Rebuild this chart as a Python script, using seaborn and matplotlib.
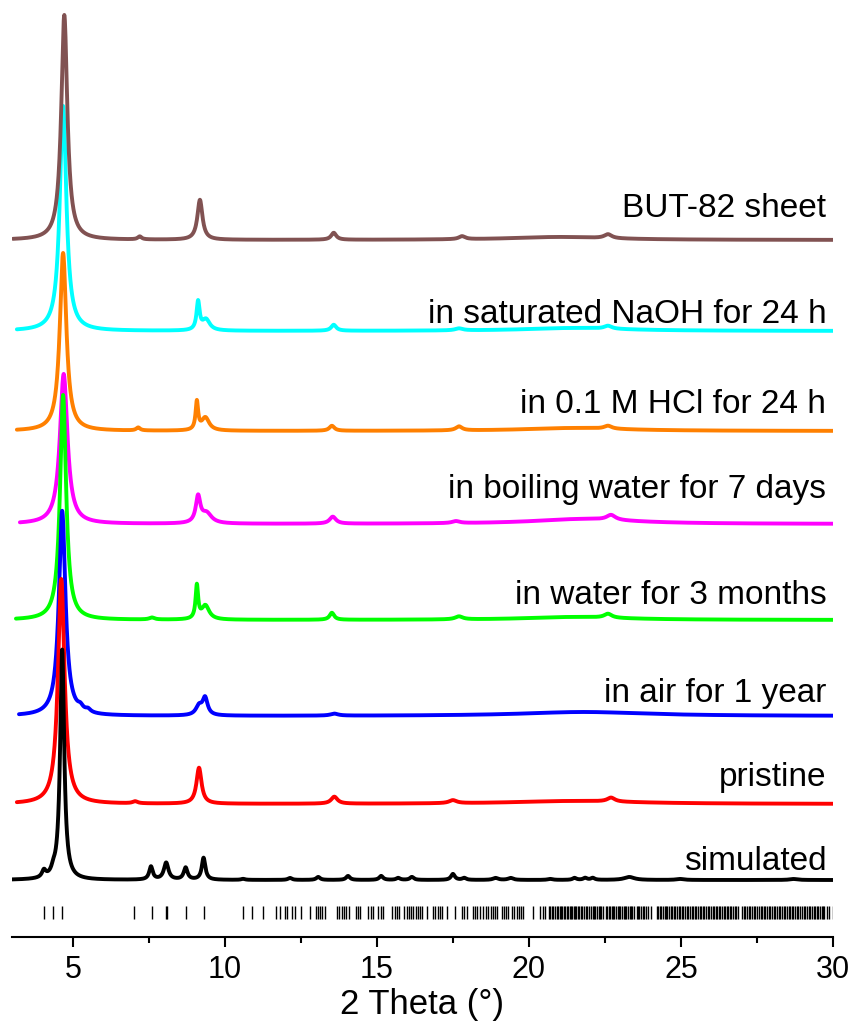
import numpy as np
import pandas as pd
import matplotlib
matplotlib.use("Agg")
import matplotlib.pyplot as plt
import seaborn as sns

sns.set_style("white")
plt.rcParams["font.family"] = ["Liberation Sans", "DejaVu Sans"]
plt.rcParams["text.color"] = "black"
plt.rcParams["xtick.color"] = "black"
plt.rcParams["axes.labelcolor"] = "black"

# sample names, top to bottom
labels = ["BUT-82 sheet", "in saturated NaOH for 24 h", "in 0.1 M HCl for 24 h",
          "in boiling water for 7 days", "in water for 3 months", "in air for 1 year",
          "pristine", "simulated"]
colors = ["#815252", "#00ffff", "#ff8000", "#ff00ff", "#00ff00", "#0000ff", "#ff0000", "#000000"]

# baseline of each pattern (stacking offset, a.u.)
offsets = [697, 606, 506, 413, 317, 221, 133, 57]
# y position of each label
label_y = [720, 614, 524, 439, 333, 235, 151, 67]
# first measured 2theta of each pattern
start_2t = [3.03, 3.16, 3.16, 3.26, 3.13, 3.23, 3.16, 3.0]

# reflections: (2theta, height, fwhm)
peaks_sheet = [(4.72, 225, 0.24), (7.2, 3, 0.15), (9.18, 40, 0.2), (13.58, 7, 0.2),
               (17.8, 3, 0.25), (21.0, 3, 4.0), (22.6, 4, 0.3)]
peaks_naoh = [(4.68, 225, 0.26), (9.12, 28, 0.12), (9.38, 11, 0.3), (13.58, 6, 0.2),
              (17.7, 2, 0.3), (21.5, 3, 4.0), (22.6, 3, 0.3)]
peaks_hcl = [(4.68, 178, 0.26), (7.15, 3, 0.15), (9.08, 28, 0.1), (9.36, 13, 0.3),
             (13.52, 5, 0.2), (17.7, 4, 0.25), (21.5, 3, 4.0), (22.6, 3, 0.3)]
peaks_boil = [(4.7, 150, 0.3), (9.12, 26, 0.18), (9.4, 10, 0.4), (13.55, 7, 0.25),
              (17.6, 2, 0.3), (21.8, 5, 4.0), (22.7, 5, 0.35)]
peaks_water = [(4.68, 225, 0.24), (7.6, 2, 0.2), (9.08, 33, 0.1), (9.36, 14, 0.3),
               (13.52, 7, 0.18), (17.7, 3, 0.3), (21.5, 3, 4.0), (22.6, 4, 0.3)]
peaks_air = [(4.65, 205, 0.26), (5.25, 4, 0.2), (5.5, 3, 0.2), (9.15, 9, 0.25),
             (9.35, 17, 0.2), (13.6, 2, 0.3), (21.8, 4, 5.0)]
peaks_pristine = [(4.62, 225, 0.26), (7.05, 2, 0.2), (9.15, 36, 0.2), (13.6, 7, 0.25),
                  (17.5, 3, 0.3), (21.5, 3, 5.0), (22.7, 4, 0.3)]
peaks_sim = [(4.05, 7, 0.15), (4.36, 5, 0.15), (4.65, 230, 0.16), (7.57, 13, 0.14),
             (8.07, 17, 0.18), (8.71, 12, 0.15), (9.3, 22, 0.14), (10.6, 1, 0.15),
             (12.14, 2, 0.15), (13.07, 3, 0.15), (14.05, 4, 0.15), (15.14, 4, 0.15),
             (15.7, 2, 0.15), (16.15, 3, 0.15), (17.5, 6, 0.15), (17.87, 2, 0.15),
             (18.9, 2, 0.2), (19.4, 2, 0.2), (20.7, 1, 0.2), (21.5, 2, 0.15),
             (21.85, 2, 0.15), (22.1, 2, 0.15), (23.3, 3, 0.4), (24.97, 1, 0.3),
             (28.7, 1, 0.3)]
all_peaks = [peaks_sheet, peaks_naoh, peaks_hcl, peaks_boil, peaks_water,
             peaks_air, peaks_pristine, peaks_sim]

# calculated reflection positions (tick row)
bragg_ticks = [
    4.05, 4.35, 4.65, 7.02, 7.6, 8.06, 8.11, 8.71, 9.3,
    10.6, 10.9, 11.27, 11.68, 11.8, 11.98, 12.06, 12.2, 12.3, 12.5, 12.8,
    13.0, 13.05, 13.12, 13.2, 13.28, 13.7, 13.76, 13.85, 13.92, 14.0, 14.08,
    14.3, 14.38, 14.46, 14.72, 14.8, 14.88, 15.05, 15.12, 15.2, 15.5, 15.58,
    15.66, 15.74, 15.9, 15.98, 16.05, 16.12, 16.2, 16.28, 16.35, 16.42, 16.5,
    16.65, 16.85, 16.92, 17.0, 17.08, 17.15, 17.3, 17.57, 17.8, 17.88, 17.96,
    18.15, 18.22, 18.3, 18.4, 18.5, 18.58, 18.66, 18.74, 18.82, 18.9, 18.95,
    19.1, 19.17, 19.24, 19.3, 19.45, 19.52, 19.6, 19.67, 19.74, 19.8,
    20.14, 20.37, 20.45, 20.53,
    20.65, 20.7, 20.76, 20.8, 20.86, 20.92, 20.95, 21.02, 21.06, 21.1, 21.15,
    21.2, 21.24, 21.3, 21.34, 21.38, 21.43, 21.47, 21.52, 21.56, 21.6, 21.66,
    21.71, 21.75, 21.82, 21.88, 21.92, 21.96, 22.04, 22.1, 22.14, 22.18, 22.25,
    22.3, 22.34, 22.38, 22.45, 22.52, 22.58, 22.62, 22.66, 22.72, 22.76, 22.8,
    22.86, 22.93, 22.97, 23.0, 23.06, 23.12, 23.16, 23.2, 23.26, 23.33, 23.37,
    23.4, 23.47, 23.55, 23.58, 23.62, 23.7, 23.74, 23.78, 23.84, 23.9, 24.0,
    24.2, 24.25, 24.3, 24.35, 24.4, 24.46, 24.5, 24.55, 24.62, 24.66, 24.72,
    24.78, 24.82, 24.88, 24.93, 24.98, 25.04, 25.08, 25.14, 25.2, 25.24, 25.3,
    25.35, 25.4, 25.46, 25.5, 25.56, 25.62, 25.66, 25.72, 25.77, 25.82, 25.88,
    25.93, 25.98, 26.04, 26.08, 26.14, 26.2, 26.25, 26.3, 26.35, 26.4, 26.46,
    26.5, 26.56, 26.62, 26.66, 26.72, 26.77, 26.82, 26.88,
    27.02, 27.07, 27.12, 27.18, 27.24, 27.28, 27.34, 27.4, 27.45, 27.5, 27.56,
    27.62, 27.67, 27.72, 27.78, 27.84, 27.88, 27.94, 28.0, 28.05, 28.1, 28.16,
    28.22, 28.26, 28.32, 28.38, 28.43, 28.48, 28.54, 28.6, 28.65, 28.7, 28.76,
    28.82, 28.86, 28.92, 28.98, 29.03, 29.08, 29.14, 29.2, 29.24, 29.3, 29.36,
    29.41, 29.46, 29.52, 29.58, 29.63, 29.68, 29.72, 29.8, 29.87, 30.0]


# build the stacked patterns from the peak lists (lorentzian profiles)
frames = []
for name, off, x0, pk in zip(labels, offsets, start_2t, all_peaks):
    tt = np.arange(x0, 30.0001, 0.01)
    inten = np.full_like(tt, float(off))
    for c, h, w in pk:
        inten += h / (1 + ((tt - c) / (w / 2)) ** 2)
    frames.append(pd.DataFrame({"two_theta": tt, "intensity": inten, "sample": name}))
df = pd.concat(frames, ignore_index=True)

# draw order: lower patterns over upper ones, sheet on top
draw_order = labels[1:] + labels[:1]

fig = plt.figure(figsize=(8.56, 10.28), dpi=100)
ax = fig.add_axes([12 / 856, 91 / 1028, 821 / 856, 927 / 1028])

sns.lineplot(data=df, x="two_theta", y="intensity", hue="sample", hue_order=draw_order,
             palette=dict(zip(labels, colors)), estimator=None, sort=False,
             linewidth=2.8, legend=False, ax=ax)

ax.vlines(bragg_ticks, 18, 31, color="black", linewidth=1.0)

for name, y in zip(labels, label_y):
    ax.text(29.78, y, name, ha="right", va="baseline", fontsize=24, color="black")

ax.set_xlim(3, 30)
ax.set_ylim(0, 927)
ax.set_xticks([5, 10, 15, 20, 25, 30])
ax.set_xticks([7.5, 12.5, 17.5, 22.5, 27.5], minor=True)
ax.set_yticks([])
ax.tick_params(axis="x", which="major", direction="out", length=7, width=1.5,
               labelsize=22, pad=6, bottom=True)
ax.tick_params(axis="x", which="minor", direction="out", length=4, width=1.5, bottom=True)
for s in ["left", "right", "top"]:
    ax.spines[s].set_visible(False)
ax.spines["bottom"].set_linewidth(1.5)
ax.spines["bottom"].set_color("black")
ax.set_xlabel("2 Theta (°)", fontsize=25, labelpad=2)
ax.set_ylabel("")

fig.savefig("out.png", dpi=100)
